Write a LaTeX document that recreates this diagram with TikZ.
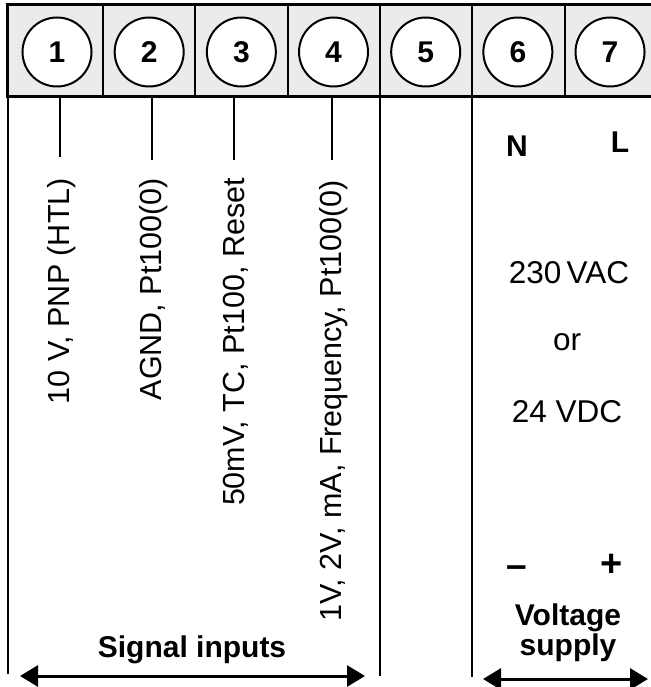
\documentclass[tikz,border=0pt]{standalone}
\usepackage{fontspec}
\setmainfont{Liberation Sans}
\usetikzlibrary{arrows.meta}
\definecolor{headgray}{gray}{0.92}
\tikzset{>={Triangle[length=18pt,width=21pt]}}
\tikzset{
  terminal/.style = {circle, draw, line width=2pt, fill=white, minimum size=69pt,
                     inner sep=0pt, font=\fontsize{30}{30}\selectfont\bfseries},
  wire/.style     = {line width=2.6pt},
  thinwire/.style = {line width=2pt},
  signal/.style   = {rotate=90, anchor=east, inner sep=0pt,
                     font=\fontsize{30.5}{30}\selectfont},
  supply/.style   = {anchor=base, inner sep=0pt, font=\fontsize{31.5}{30}\selectfont},
  caption/.style  = {anchor=base, inner sep=0pt, font=\fontsize{30}{30}\selectfont\bfseries}
}

\begin{document}
\begin{tikzpicture}[x=1pt,y=-1pt]
  \useasboundingbox (0,0) rectangle (650,687);
  % header strip
  \fill[headgray] (7,5) rectangle (660,97);
  \draw[thinwire] (103,5) -- (103,97) (195,5) -- (195,97) (288,5) -- (288,97);
  \draw[wire] (565,5) -- (565,97);
  \draw[line width=3pt] (660,5) -- (7,5) -- (7,97) -- (660,97);
  % terminals
  \foreach \i in {1,...,7}
    \node[terminal] (t\i) at ({57+92.17*(\i-1)},52) {\i};
  % frame below the terminals
  \coordinate (left) at (8,674);
  \coordinate (mid) at (380,676);
  \coordinate (right) at (472,677);
  \draw[wire] (8,97) -- (left);
  \draw[wire] (380,5) -- (mid);
  \draw[wire] (472,5) -- (right);
  % signal inputs
  \coordinate (tick1) at (60,157);
  \coordinate (tick2) at (152,160);
  \coordinate (tick3) at (234,160);
  \coordinate (tick4) at (332,160);
  \foreach \x in {1,...,4}
    \draw[wire] (tick\x |- 0,97) -- (tick\x);
  \node[signal] (in1) at (62,178) {10 V, PNP (HTL)};
  \node[signal] (in2) at (154,178) {AGND, Pt100(0)};
  \node[signal] (in3) at (236,178) {50mV, TC, Pt100, Reset};
  \node[signal] (in4) at (334,180) {1V, 2V, mA, Frequency, Pt100(0)};
  % voltage supply
  \node[caption] (N) at (517,157) {N};
  \node[caption] (L) at (620,153) {L};
  \node[supply] (vac) at (569,283) {230\,VAC};
  \node[supply] (or) at (567,350) {or};
  \node[supply] (vdc) at (567,422) {24 VDC};
  \node[caption, font=\fontsize{37}{37}\selectfont\bfseries] (minus) at (517,577) {--};
  \node[caption, font=\fontsize{38}{38}\selectfont\bfseries] (plus) at (612,576) {+};
  % captions and arrows
  \node[caption] (sig) at (192,657) {Signal inputs};
  \node[caption] (volt) at (568,625) {Voltage};
  \node[caption] (supp) at (568,655) {supply};
  \coordinate (sigL) at (20,676);
  \coordinate (sigR) at (365,676);
  \coordinate (supL) at (483,679);
  \coordinate (supR) at (648,679);
  \draw[<->,line width=3pt] (sigL) -- (sigR);
  \draw[<->,line width=3pt] (supL) -- (supR);
\end{tikzpicture}
\end{document}
